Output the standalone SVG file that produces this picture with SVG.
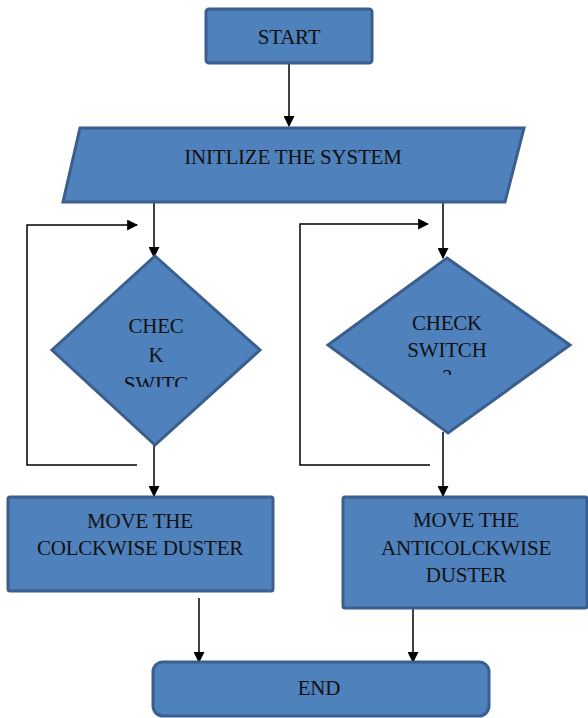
<svg xmlns="http://www.w3.org/2000/svg" width="588" height="718" viewBox="0 0 588 718">
<style>
.shape{fill:#4F81BD;stroke:#3A5F8E;stroke-width:3;}
.lbl{font-family:"Liberation Serif","Times New Roman",serif;font-size:21px;fill:#111;text-anchor:middle;letter-spacing:-0.2px;}
.con{fill:none;stroke:#000;stroke-width:1.5;}
</style>
<defs>
<marker id="ah" viewBox="0 0 10 10" refX="9" refY="5" markerWidth="11" markerHeight="11" markerUnits="userSpaceOnUse" orient="auto">
<path d="M0,0 L10,5 L0,10 z" fill="#000"/>
</marker>
<clipPath id="clipL"><rect x="90" y="300" width="130" height="87"/></clipPath>
<clipPath id="clipR"><rect x="370" y="300" width="160" height="75"/></clipPath>
</defs>
<rect width="588" height="718" fill="#fff"/>
<g id="connectors">
<line class="con" x1="289" y1="63" x2="289" y2="126" marker-end="url(#ah)"/>
<line class="con" x1="154" y1="202" x2="154" y2="257" marker-end="url(#ah)"/>
<line class="con" x1="443" y1="202" x2="443" y2="258" marker-end="url(#ah)"/>
<polyline class="con" points="137,465 27,465 27,225 137,225" marker-end="url(#ah)"/>
<polyline class="con" points="430,465 300,465 300,224 428,224" marker-end="url(#ah)"/>
<line class="con" x1="154" y1="445" x2="154" y2="496" marker-end="url(#ah)"/>
<line class="con" x1="443" y1="432" x2="443" y2="496" marker-end="url(#ah)"/>
<line class="con" x1="199" y1="598" x2="199" y2="662" marker-end="url(#ah)"/>
<line class="con" x1="413" y1="608" x2="413" y2="662" marker-end="url(#ah)"/>
</g>
<g id="start">
<rect class="shape" x="206" y="9" width="166" height="54" rx="3"/>
<text class="lbl" x="289" y="44">START</text>
</g>
<g id="init">
<polygon class="shape" points="80,128 524,128 505,202 63,202"/>
<text class="lbl" x="293" y="164">INITLIZE THE SYSTEM</text>
</g>
<g id="check1">
<polygon class="shape" points="155,256 260,350 155,445 52,350"/>
<g clip-path="url(#clipL)">
<text class="lbl" x="156" y="333">CHEC</text>
<text class="lbl" x="156" y="362">K</text>
<text class="lbl" x="156" y="391">SWITC</text>
</g>
</g>
<g id="check2">
<polygon class="shape" points="447,258 570,345 448,433 328,345"/>
<g clip-path="url(#clipR)">
<text class="lbl" x="447" y="330">CHECK</text>
<text class="lbl" x="447" y="357">SWITCH</text>
<text class="lbl" x="447" y="384">?</text>
</g>
</g>
<g id="move1">
<rect class="shape" x="8" y="497" width="265" height="94" rx="2"/>
<text class="lbl" x="140" y="528">MOVE THE</text>
<text class="lbl" x="140" y="555">COLCKWISE DUSTER</text>
</g>
<g id="move2">
<rect class="shape" x="343" y="497" width="244" height="111" rx="2"/>
<text class="lbl" x="466" y="527">MOVE THE</text>
<text class="lbl" x="466" y="555">ANTICOLCKWISE</text>
<text class="lbl" x="466" y="582">DUSTER</text>
</g>
<g id="end">
<rect class="shape" x="153" y="662" width="336" height="54" rx="10"/>
<text class="lbl" x="319" y="695">END</text>
</g>
</svg>
